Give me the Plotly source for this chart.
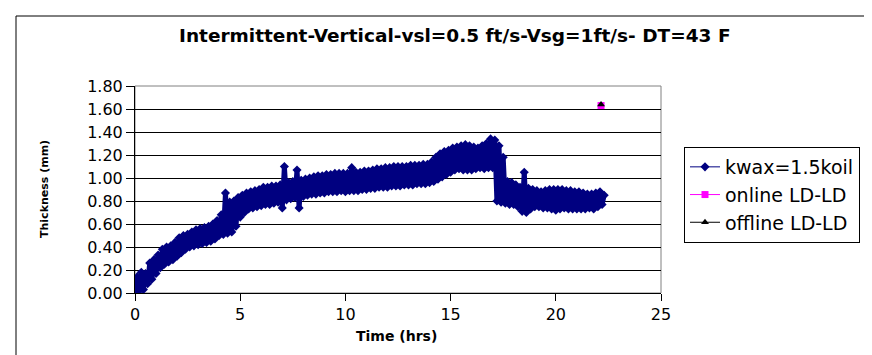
import plotly.graph_objects as go

# ---- data ----
time_hrs = [
    0.0, 0.1, 0.2, 0.3, 0.4, 0.5, 0.6, 0.7, 0.8, 0.9,
    1.0, 1.1, 1.2, 1.3, 1.4, 1.5, 1.6, 1.7, 1.8, 1.9,
    2.0, 2.1, 2.2, 2.3, 2.4, 2.5, 2.6, 2.7, 2.8, 2.9,
    3.0, 3.1, 3.2, 3.3, 3.4, 3.5, 3.6, 3.7, 3.8, 3.9,
    4.0, 4.1, 4.2, 4.3, 4.4, 4.5, 4.6, 4.7, 4.8, 4.9,
    5.0, 5.1, 5.2, 5.3, 5.4, 5.5, 5.6, 5.7, 5.8, 5.9,
    6.0, 6.1, 6.2, 6.3, 6.4, 6.5, 6.6, 6.7, 6.8, 6.9,
    7.0, 7.1, 7.2, 7.3, 7.4, 7.5, 7.6, 7.7, 7.8, 7.9,
    8.0, 8.1, 8.2, 8.3, 8.4, 8.5, 8.6, 8.7, 8.8, 8.9,
    9.0, 9.1, 9.2, 9.3, 9.4, 9.5, 9.6, 9.7, 9.8, 9.9,
    10.0, 10.1, 10.2, 10.3, 10.4, 10.5, 10.6, 10.7, 10.8, 10.9,
    11.0, 11.1, 11.2, 11.3, 11.4, 11.5, 11.6, 11.7, 11.8, 11.9,
    12.0, 12.1, 12.2, 12.3, 12.4, 12.5, 12.6, 12.7, 12.8, 12.9,
    13.0, 13.1, 13.2, 13.3, 13.4, 13.5, 13.6, 13.7, 13.8, 13.9,
    14.0, 14.1, 14.2, 14.3, 14.4, 14.5, 14.6, 14.7, 14.8, 14.9,
    15.0, 15.1, 15.2, 15.3, 15.4, 15.5, 15.6, 15.7, 15.8, 15.9,
    16.0, 16.1, 16.2, 16.3, 16.4, 16.5, 16.6, 16.7, 16.8, 16.9,
    17.0, 17.1, 17.2, 17.3, 17.4, 17.5, 17.6, 17.7, 17.8, 17.9,
    18.0, 18.1, 18.2, 18.3, 18.4, 18.5, 18.6, 18.7, 18.8, 18.9,
    19.0, 19.1, 19.2, 19.3, 19.4, 19.5, 19.6, 19.7, 19.8, 19.9,
    20.0, 20.1, 20.2, 20.3, 20.4, 20.5, 20.6, 20.7, 20.8, 20.9,
    21.0, 21.1, 21.2, 21.3, 21.4, 21.5, 21.6, 21.7, 21.8, 21.9,
    22.0, 22.1, 22.2, 22.3,
]

thickness_kwax = [
    0.01, 0.14, 0.02, 0.18, 0.03, 0.17, 0.08, 0.26, 0.12, 0.29,
    0.17, 0.33, 0.22, 0.38, 0.25, 0.40, 0.27, 0.41, 0.29, 0.44,
    0.32, 0.48, 0.35, 0.50, 0.38, 0.51, 0.40, 0.53, 0.41, 0.55,
    0.42, 0.56, 0.43, 0.57, 0.44, 0.58, 0.45, 0.60, 0.47, 0.63,
    0.50, 0.68, 0.51, 0.87, 0.52, 0.79, 0.53, 0.80, 0.58, 0.83,
    0.66, 0.85, 0.70, 0.87, 0.73, 0.88, 0.74, 0.89, 0.75, 0.90,
    0.76, 0.92, 0.77, 0.92, 0.77, 0.93, 0.78, 0.93, 0.79, 0.94,
    0.74, 1.10, 0.81, 0.96, 0.82, 0.97, 0.83, 1.07, 0.74, 0.98,
    0.84, 0.99, 0.85, 1.00, 0.86, 1.01, 0.86, 1.02, 0.87, 1.02,
    0.87, 1.03, 0.88, 1.03, 0.88, 1.04, 0.88, 1.04, 0.89, 1.04,
    0.88, 1.04, 0.89, 1.09, 0.89, 1.05, 0.89, 1.05, 0.90, 1.06,
    0.90, 1.06, 0.91, 1.07, 0.91, 1.08, 0.92, 1.08, 0.92, 1.09,
    0.92, 1.09, 0.93, 1.10, 0.93, 1.10, 0.93, 1.10, 0.94, 1.10,
    0.94, 1.11, 0.94, 1.11, 0.95, 1.11, 0.95, 1.12, 0.95, 1.12,
    0.96, 1.14, 0.97, 1.18, 0.99, 1.21, 1.01, 1.23, 1.03, 1.24,
    1.05, 1.26, 1.07, 1.27, 1.08, 1.28, 1.07, 1.29, 1.07, 1.28,
    1.07, 1.27, 1.08, 1.26, 1.09, 1.28, 1.08, 1.30, 1.09, 1.34,
    1.09, 1.33, 0.80, 1.28, 0.79, 1.18, 0.78, 0.97, 0.77, 0.96,
    0.77, 0.94, 0.75, 0.92, 0.71, 1.05, 0.70, 0.91, 0.73, 0.90,
    0.75, 0.89, 0.75, 0.88, 0.74, 0.89, 0.74, 0.90, 0.73, 0.90,
    0.72, 0.90, 0.73, 0.90, 0.74, 0.89, 0.73, 0.89, 0.73, 0.88,
    0.73, 0.88, 0.73, 0.87, 0.73, 0.86, 0.74, 0.86, 0.73, 0.87,
    0.75, 0.88, 0.77, 0.85,
]

online_time = [22.15]
online_thickness = [1.63]
offline_time = [22.15]
offline_thickness = [1.64]

series_names = ["kwax=1.5koil", "online LD-LD", "offline LD-LD"]
title_text = "Intermittent-Vertical-vsl=0.5 ft/s-Vsg=1ft/s- DT=43 F"
x_title = "Time (hrs)"
y_title = "Thickness (mm)"

FONT = "DejaVu Sans, Verdana, sans-serif"
NAVY = "#000080"

fig = go.Figure()
# dense data band (legend entry drawn by a separate thin-line entry)
fig.add_trace(go.Scatter(
    x=time_hrs, y=thickness_kwax, name=series_names[0],
    mode="lines+markers", showlegend=False,
    line=dict(color=NAVY, width=5),
    marker=dict(symbol="diamond", size=7, color=NAVY, line=dict(width=0)),
))
fig.add_trace(go.Scatter(
    x=[None], y=[None], name=series_names[0],
    mode="lines+markers",
    line=dict(color=NAVY, width=1),
    marker=dict(symbol="diamond", size=7, color=NAVY, line=dict(width=0)),
))
fig.add_trace(go.Scatter(
    x=online_time, y=online_thickness, name=series_names[1],
    mode="lines+markers",
    line=dict(color="#FF00FF", width=1),
    marker=dict(symbol="square", size=7, color="#FF00FF", line=dict(width=0)),
))
fig.add_trace(go.Scatter(
    x=offline_time, y=offline_thickness, name=series_names[2],
    mode="lines+markers",
    line=dict(color="#000000", width=1),
    marker=dict(symbol="triangle-up", size=7, color="#000000", line=dict(width=0)),
))

fig.update_layout(
    width=872, height=355,
    margin=dict(l=127, r=219, t=78, b=70),
    paper_bgcolor="white", plot_bgcolor="white",
    font=dict(family=FONT, color="black", size=16),
    showlegend=True,
    legend=dict(
        x=(676 - 127) / 526, y=(285 - 139) / 207, xanchor="left", yanchor="top",
        bordercolor="black", borderwidth=1, bgcolor="white",
        font=dict(family=FONT, size=19, color="black"),
        tracegroupgap=0,
    ),
    xaxis=dict(
        range=[0, 25], dtick=5, tick0=0,
        showgrid=False, zeroline=False,
        showline=True, linecolor="black", linewidth=1,
        ticks="outside", ticklen=7, tickcolor="black",
        tickfont=dict(family=FONT, size=16),
    ),
    yaxis=dict(
        range=[0, 1.8], dtick=0.2, tick0=0, tickformat=".2f",
        showgrid=True, gridcolor="black", gridwidth=1,
        zeroline=False,
        showline=True, linecolor="black", linewidth=1,
        ticks="outside", ticklen=8, tickcolor="black",
        tickfont=dict(family=FONT, size=16),
    ),
    shapes=[
        dict(type="rect", xref="paper", yref="paper", x0=0, x1=1, y0=0, y1=1,
             line=dict(color="#808080", width=1), layer="below"),
        dict(type="rect", xref="paper", yref="paper",
             x0=(8 - 127) / 526, x1=(900 - 127) / 526,
             y0=(285 - 380) / 207, y1=(285 - 8) / 207,
             line=dict(color="black", width=1), layer="below"),
    ],
    annotations=[
        dict(text="<b>" + title_text + "</b>", xref="paper", yref="paper",
             x=(447 - 127) / 526, y=(285 - 27) / 207,
             xanchor="center", yanchor="middle", showarrow=False,
             font=dict(family=FONT, size=18.5, color="black")),
        dict(text="<b>" + x_title + "</b>", xref="paper", yref="paper",
             x=(388 - 127) / 526, y=(285 - 328) / 207,
             xanchor="center", yanchor="middle", showarrow=False,
             font=dict(family=FONT, size=14, color="black")),
        dict(text="<b>" + y_title + "</b>", xref="paper", yref="paper",
             x=(36 - 127) / 526, y=(285 - 181) / 207,
             xanchor="center", yanchor="middle", showarrow=False, textangle=-90,
             font=dict(family=FONT, size=11, color="black")),
    ],
)

fig.write_html("out.html")
